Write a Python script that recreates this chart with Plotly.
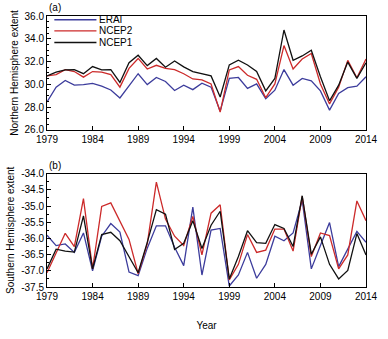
import plotly.graph_objects as go
from plotly.subplots import make_subplots

years = list(range(1979, 2015))

# Northern Hemisphere extent
nh_erai = [28.45, 29.75, 30.33, 29.92, 29.97, 30.08, 29.84, 29.50, 28.80, 29.84,
           30.93, 29.97, 30.60, 30.25, 29.45, 29.92, 29.53, 30.10, 29.75, 27.64,
           30.52, 30.60, 29.64, 30.03, 28.74, 29.48, 31.29, 29.92, 30.52, 30.30,
           29.42, 27.73, 29.20, 29.70, 29.84, 30.66]
nh_ncep2 = [30.74, 30.85, 31.29, 31.12, 30.63, 31.12, 31.07, 30.85, 29.75, 31.40,
            32.27, 31.34, 31.67, 31.40, 31.29, 30.93, 30.47, 30.38, 30.03, 27.56,
            31.26, 31.56, 30.79, 30.44, 28.82, 30.03, 33.40, 31.34, 32.22, 32.71,
            30.03, 28.27, 29.75, 32.10, 30.58, 32.22]
nh_ncep1 = [30.74, 31.07, 31.26, 31.29, 30.93, 31.56, 31.26, 31.29, 30.16, 31.89,
            32.55, 31.64, 32.27, 31.50, 32.05, 31.53, 31.12, 30.93, 30.74, 28.88,
            31.70, 32.11, 31.70, 31.12, 29.42, 30.52, 34.77, 32.11, 32.49, 32.99,
            30.66, 28.55, 29.92, 31.95, 30.52, 31.89]

# Southern Hemisphere extent
sh_erai = [-35.90, -36.22, -36.17, -36.43, -35.83, -37.00, -35.93, -35.54, -35.80, -37.04,
           -37.15, -36.30, -35.61, -35.61, -36.27, -36.84, -35.03, -37.13, -35.74, -35.69,
           -37.47, -37.13, -36.43, -37.23, -36.80, -35.93, -36.07, -35.83, -34.82, -36.94,
           -36.22, -35.51, -36.87, -36.34, -35.78, -36.12]
sh_ncep2 = [-37.06, -36.46, -35.84, -36.25, -34.77, -36.94, -35.01, -34.90, -35.47, -36.03,
            -37.09, -36.17, -34.26, -35.40, -35.93, -36.22, -35.32, -36.51, -35.22, -34.96,
            -37.28, -36.80, -35.88, -36.43, -36.36, -35.71, -35.71, -36.39, -34.70, -36.56,
            -35.83, -35.91, -36.94, -36.51, -34.84, -35.45]
sh_ncep1 = [-36.94, -36.33, -36.39, -36.42, -35.30, -36.94, -35.88, -35.81, -36.07, -36.56,
            -37.06, -36.12, -35.11, -35.25, -36.34, -36.15, -35.45, -36.31, -35.59, -35.16,
            -37.25, -36.56, -35.76, -36.13, -36.15, -35.57, -35.69, -36.25, -34.68, -36.49,
            -35.95, -36.80, -37.25, -36.99, -35.85, -36.51]

series_names = ["ERAI", "NCEP2", "NCEP1"]
colors = ["#3c3c9c", "#cc2a2a", "#111111"]

xticks = list(range(1979, 2015, 5))
nh_ticks = [26.0, 28.0, 30.0, 32.0, 34.0, 36.0]
sh_ticks = [-34.0, -34.5, -35.0, -35.5, -36.0, -36.5, -37.0, -37.5]

FONT = "Liberation Sans, Arial, Helvetica, sans-serif"

fig = make_subplots(rows=2, cols=1, vertical_spacing=0.16)

for name, col, nh, sh in zip(series_names, colors,
                             [nh_erai, nh_ncep2, nh_ncep1],
                             [sh_erai, sh_ncep2, sh_ncep1]):
    fig.add_trace(go.Scatter(x=years, y=nh, mode="lines", name=name,
                             line=dict(color=col, width=1.3),
                             showlegend=False), row=1, col=1)
    fig.add_trace(go.Scatter(x=years, y=sh, mode="lines", name=name,
                             line=dict(color=col, width=1.3),
                             showlegend=False), row=2, col=1)

axis_common = dict(showline=True, linecolor="black", linewidth=1, mirror=True,
                   ticks="inside", ticklen=4, tickcolor="black", showgrid=False,
                   zeroline=False, tickfont=dict(size=10, color="black", family=FONT))

fig.update_xaxes(range=[1979, 2014], tickvals=xticks,
                 ticktext=[str(t) for t in xticks], ticklabeloverflow="allow",
                 **axis_common)
fig.update_yaxes(**axis_common)

fig.update_yaxes(range=[26, 36], tickvals=nh_ticks,
                 ticktext=[f"{v:.1f}" for v in nh_ticks],
                 minor=dict(dtick=0.5, ticks="inside", ticklen=2, tickcolor="black"),
                 title=dict(text="Northern Hemisphere extent",
                            font=dict(size=10, family=FONT, color="black"), standoff=4),
                 row=1, col=1)
fig.update_yaxes(range=[-37.5, -34], tickvals=sh_ticks,
                 ticktext=[f"{v:.1f}" for v in sh_ticks],
                 minor=dict(dtick=0.25, ticks="inside", ticklen=2, tickcolor="black"),
                 title=dict(text="Southern Hemisphere extent",
                            font=dict(size=10, family=FONT, color="black"), standoff=4),
                 row=2, col=1)
fig.update_xaxes(title=dict(text="Year", font=dict(size=10, family=FONT, color="black"),
                            standoff=20), row=2, col=1)

fig.update_layout(
    width=388, height=339,
    margin=dict(l=39, r=10, t=13, b=36),
    paper_bgcolor="white", plot_bgcolor="white",
    font=dict(family=FONT, size=10, color="black"),
    yaxis=dict(domain=[0.58, 1.0]),
    yaxis2=dict(domain=[0.0, 0.418]),
)

# legend drawn inside panel (a)
leg_y = [0.967, 0.869, 0.767]
for name, col, yy in zip(series_names, colors, leg_y):
    fig.add_shape(type="line", xref="x domain", yref="y domain",
                  x0=0.023, x1=0.155, y0=yy, y1=yy,
                  line=dict(color=col, width=1.3))
    fig.add_annotation(xref="x domain", yref="y domain", x=0.158, y=yy,
                       text=name, showarrow=False, xanchor="left", yanchor="middle",
                       font=dict(size=10, family=FONT, color="black"))

# panel labels
for lab, xref, yref in [("(a)", "x domain", "y domain"), ("(b)", "x2 domain", "y2 domain")]:
    fig.add_annotation(xref=xref, yref=yref,
                       x=0.0, y=1.0, yshift=1, text=lab, showarrow=False,
                       xanchor="left", yanchor="bottom",
                       font=dict(size=10, family=FONT, color="black"))

fig.write_html("out.html")
